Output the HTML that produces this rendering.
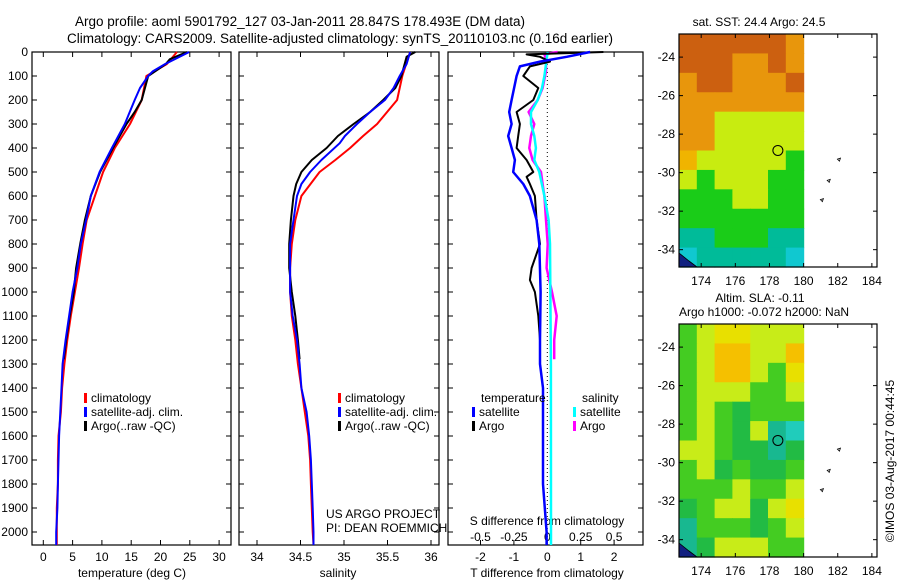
<!DOCTYPE html>
<html><head><meta charset="utf-8">
<style>
html,body{margin:0;padding:0;background:#fff;}
svg text{font-family:"Liberation Sans",sans-serif;fill:#000;}
</style></head>
<body>
<svg id="fig" width="900" height="580" viewBox="0 0 900 580" xmlns="http://www.w3.org/2000/svg">
<text x="300" y="26" font-size="13.5" text-anchor="middle">Argo profile: aoml 5901792_127 03-Jan-2011 28.847S 178.493E (DM data)</text>
<text x="340" y="43" font-size="13.5" text-anchor="middle">Climatology: CARS2009. Satellite-adjusted climatology: synTS_20110103.nc (0.16d earlier)</text>
</svg>
<script>
// ---------- DATA ----------
const tDepthClim = [0,50,100,200,300,400,500,600,700,800,900,1000,1100,1200,1300,1400,1500,1600,1700,1800,1900,2000,2054];
const tClim = [22.8,21.1,17.6,16.8,14.8,12.2,10.2,8.8,7.4,6.7,6.1,5.4,4.7,4.1,3.6,3.2,3.0,2.6,2.5,2.5,2.3,2.3,2.3];
const tDepthSat = [0,50,80,100,150,200,300,400,500,600,700,800,900,1000,1100,1200,1300,1400,1500,1600,1700,1800,1900,2000,2054];
const tSat = [24.9,20.8,18.7,17.9,16.5,15.6,13.9,11.7,9.6,8.1,7.3,6.4,5.8,5.0,4.4,3.8,3.3,3.1,2.9,2.7,2.6,2.5,2.4,2.2,2.2];
const tDepthArgo = [0,30,50,100,200,250,300,400,500,600,700,800,900,1000,1100,1200,1280];
const tArgo = [24.5,21.6,20.9,17.9,16.8,15.6,14.2,11.9,9.7,8.1,7.1,6.3,5.6,5.2,4.5,3.9,3.5];

const sDepthClim = [0,100,200,300,350,400,450,500,600,700,800,900,1000,1100,1200,1300,1400,1500,1600,1700,1800,1900,2000,2054];
const sClim = [35.76,35.67,35.61,35.38,35.22,35.07,34.9,34.72,34.51,34.44,34.40,34.38,34.38,34.40,34.44,34.47,34.51,34.55,34.59,34.61,34.62,34.63,34.64,34.65];
const sDepthSat = [0,50,100,150,200,250,300,350,380,450,500,550,600,700,800,900,1000,1100,1200,1300,1400,1500,1600,1700,1800,1900,2000,2054];
const sSat = [35.76,35.72,35.64,35.57,35.47,35.30,35.15,35.01,34.95,34.74,34.61,34.51,34.46,34.42,34.38,34.38,34.38,34.41,34.46,34.49,34.51,34.57,34.60,34.62,34.63,34.64,34.65,34.65];
const sDepthArgo = [0,20,100,150,200,250,300,350,400,450,500,550,600,700,800,900,1000,1100,1200,1280];
const sArgo = [35.82,35.72,35.66,35.59,35.45,35.30,35.11,34.93,34.80,34.63,34.51,34.45,34.42,34.39,34.37,34.37,34.40,34.44,34.47,34.49];

const dtDepthSat = [0,20,40,60,100,200,250,300,350,400,450,500,550,600,700,800,1000,1200,1300,1400,1800,2000,2054];
const dtSat = [1.28,0.58,-0.22,-0.82,-0.92,-1.07,-1.14,-1.07,-1.17,-1.07,-0.97,-1.02,-0.72,-0.52,-0.32,-0.24,-0.20,-0.22,-0.22,-0.13,-0.13,-0.02,-0.02];
const dtDepthArgo = [0,10,20,40,60,100,150,200,250,300,350,400,450,500,520,550,600,700,800,900,950,1000,1100,1200,1280];
const dtArgo = [1.68,-0.62,-0.22,0.08,-0.52,-0.72,-0.27,-0.42,-0.92,-0.82,-0.87,-0.92,-0.62,-0.42,-0.62,-0.52,-0.37,-0.32,-0.22,-0.47,-0.52,-0.37,-0.27,-0.22,-0.22];
const dsDepthSat = [0,50,100,150,200,250,300,350,400,450,500,600,700,800,1300,2054];
const dsSat = [0.003,-0.01,-0.022,-0.04,-0.072,-0.122,-0.122,-0.097,-0.085,-0.097,-0.06,-0.022,0.01,0.02,0.027,0.028];
const dsDepthArgo = [0,10,30,80,150,200,250,300,350,400,450,500,550,600,700,800,900,1000,1100,1200,1280];
const dsArgo = [0.077,-0.022,-0.01,-0.01,-0.035,-0.072,-0.14,-0.097,-0.122,-0.135,-0.11,-0.047,-0.035,-0.022,-0.01,0.003,-0.005,0.035,0.07,0.052,0.052];

const depthTicks = [0,100,200,300,400,500,600,700,800,900,1000,1100,1200,1300,1400,1500,1600,1700,1800,1900,2000];
const tempTicks = [0,5,10,15,20,25,30];
const salTicks = [34,34.5,35,35.5,36];
const salTickLabels = ["34","34.5","35","35.5","36"];
const dtTicks = [-2,-1,0,1,2];
const dsTicks = [-0.5,-0.25,0,0.25,0.5];
const dsTickLabels = ["-0.5","-0.25","0","0.25","0.5"];
const lonTicks = [174,176,178,180,182,184];
const latTicks = [-24,-26,-28,-30,-32,-34];

const sstGrid = [
 "DDDDDDO",
 "DDDOODO",
 "ODDOOOD",
 "OOOOOOO",
 "OOYYYYY",
 "OOYYYYY",
 "LYYYYYN",
 "YNYYYNN",
 "NNNYYNN",
 "NNNNNNN",
 "TTNNNTT",
 "CTTTTTC"];
const slaGrid = [
 "GYLLYYY",
 "GYOOYYO",
 "GYOOYGL",
 "GYYYGGY",
 "GYGgGGG",
 "GYGgYTC",
 "YYGggTg",
 "GYgGggG",
 "GGGYGGY",
 "gGYYgYL",
 "TGGGgGY",
 "TgYYYGG"];
const argoLon = 178.493, argoLat = -28.847;

// ---------- helpers ----------
const NS = "http://www.w3.org/2000/svg";
const svg = document.getElementById('fig');
function mk(tag, attrs, parent){const e=document.createElementNS(NS,tag);for(const k in attrs)e.setAttribute(k,attrs[k]);(parent||svg).appendChild(e);return e;}
function txt(s,x,y,size,anchor,name,parent){const t=mk('text',{x:x,y:y,'font-size':size,'text-anchor':anchor||'start'},parent);t.textContent=s;


return t;}

const yD = d => 52 + d*0.24;
const P1 = {l:32,r:231}, P2={l:239,r:439}, P3={l:448,r:643};
const xT = v => 43.3 + v*5.86;
const xS = v => 257 + (v-34)*87;
const xDT = v => 547.3 + v*33.4;
const xDS = v => 547.3 + v*133.6;

function panel(p,name){
  const r=mk('rect',{x:p.l,y:52,width:p.r-p.l,height:493,fill:'none',stroke:'#000','stroke-width':1.2});
  
  
  depthTicks.forEach(d=>{
    mk('line',{x1:p.l,x2:p.l+5,y1:yD(d),y2:yD(d),stroke:'#000'});
    mk('line',{x1:p.r-5,x2:p.r,y1:yD(d),y2:yD(d),stroke:'#000'});
  });
}
function xticks(p,ticks,fx,labels,ly,name){
  ticks.forEach((v,i)=>{
    const x=fx(v);
    mk('line',{x1:x,x2:x,y1:545,y2:540,stroke:'#000'});
    mk('line',{x1:x,x2:x,y1:52,y2:57,stroke:'#000'});
    if(labels) txt(labels[i],x,ly,12,'middle',name);
  });
}
function line(depths,vals,fx,color,w,name){
  const pts=depths.map((d,i)=>fx(vals[i]).toFixed(1)+','+yD(d).toFixed(1)).join(' ');
  const e=mk('polyline',{points:pts,fill:'none',stroke:color,'stroke-width':w,'stroke-linejoin':'round'});
  
  
}
function legend(x,y,color,label,name){
  const m=mk('rect',{x:x,y:y-9,width:3,height:10,fill:color});
  
  
  txt(label,x+7,y,12,'start',name);
}

// ---------- panel 1 temperature ----------
panel(P1,'temperature-panel');
depthTicks.forEach(d=>txt(String(d),28,yD(d)+4,12,'end','depth-tick-label'));
xticks(P1,tempTicks,xT,tempTicks.map(String),561,'temperature-tick-label');
txt('temperature (deg C)',132,577,12,'middle','temperature-axis-title');
line(tDepthClim,tClim,xT,'#ff0000',2,'temp-climatology-line');
line(tDepthArgo,tArgo,xT,'#000000',2,'temp-argo-line');
line(tDepthSat,tSat,xT,'#0000ff',2,'temp-satellite-line');
legend(84,402,'#ff0000','climatology','legend-climatology');
legend(84,416,'#0000ff','satellite-adj. clim.','legend-satellite-adj');
legend(84,430,'#000000','Argo(..raw -QC)','legend-argo');

// ---------- panel 2 salinity ----------
panel(P2,'salinity-panel');
xticks(P2,salTicks,xS,salTickLabels,561,'salinity-tick-label');
txt('salinity',338,577,12,'middle','salinity-axis-title');
line(sDepthClim,sClim,xS,'#ff0000',2,'sal-climatology-line');
line(sDepthArgo,sArgo,xS,'#000000',2,'sal-argo-line');
line(sDepthSat,sSat,xS,'#0000ff',2,'sal-satellite-line');
legend(338,402,'#ff0000','climatology','legend2-climatology');
legend(338,416,'#0000ff','satellite-adj. clim.','legend2-satellite-adj');
legend(338,430,'#000000','Argo(..raw -QC)','legend2-argo');
txt('US ARGO PROJECT',326,518,12,'start','credit-project');
txt('PI: DEAN ROEMMICH',326,532,12,'start','credit-pi');

// ---------- panel 3 differences ----------
panel(P3,'difference-panel');
xticks(P3,dtTicks,xDT,dtTicks.map(String),561,'tdiff-tick-label');
dsTicks.forEach((v,i)=>txt(dsTickLabels[i],xDS(v),541,12,'middle','sdiff-tick-label'));
txt('S difference from climatology',547,525,12,'middle','sdiff-axis-title');
txt('T difference from climatology',547,577,12,'middle','tdiff-axis-title');
const zl=mk('line',{x1:xDT(0),x2:xDT(0),y1:52,y2:545,stroke:'#000','stroke-dasharray':'1,3'});


line(dsDepthArgo,dsArgo,xDS,'#ff00ff',2.5,'sdiff-argo-line');
line(dsDepthSat,dsSat,xDS,'#00ffff',2.5,'sdiff-satellite-line');
line(dtDepthArgo,dtArgo,xDT,'#000000',2,'tdiff-argo-line');
line(dtDepthSat,dtSat,xDT,'#0000ff',2.5,'tdiff-satellite-line');
txt('temperature',481,402,12,'start','legend3-temperature-heading');
legend(472,416,'#0000ff','satellite','legend3-t-satellite');
legend(472,430,'#000000','Argo','legend3-t-argo');
txt('salinity',582,402,12,'start','legend3-salinity-heading');
legend(573,416,'#00ffff','satellite','legend3-s-satellite');
legend(573,430,'#ff00ff','Argo','legend3-s-argo');

// ---------- maps ----------
const sstColors={D:'#cc6010',O:'#e8960c',L:'#f0b400',Y:'#c8ec10',N:'#1acc18',T:'#00bb99',C:'#10c8d0'};
const slaColors={G:'#44cc22',g:'#22bb44',Y:'#c8ec18',L:'#e8e000',O:'#f5c000',T:'#18b890',C:'#20ccbb'};
const lon0=172.7, lon1=184.3, latTop=-22.8, latBot=-34.9, mapL=679, mapR=877;
const xLon = lon => mapL + (lon-lon0)*(mapR-mapL)/(lon1-lon0);
function map(top,grid,colors,name){
  const bot=top+233;
  const yLat = lat => top + (latTop-lat)*(bot-top)/(latTop-latBot);
  const g=mk('g',{});
  
  
  const nr=grid.length, nc=grid[0].length;
  const cw=(xLon(180)-mapL)/nc, rh=(bot-top)/nr;
  grid.forEach((row,r)=>{for(let c=0;c<nc;c++){
    mk('rect',{x:(mapL+c*cw).toFixed(2),y:(top+r*rh).toFixed(2),width:(cw+0.6).toFixed(2),height:(rh+0.6).toFixed(2),fill:colors[row[c]]},g);
  }});
  mk('path',{d:`M${mapL} ${bot-14} L${mapL+10} ${bot-6} L${mapL+18} ${bot} L${mapL} ${bot} Z`,fill:'#102080',stroke:'#000','stroke-width':0.8},g);
  [[182.1,-29.3],[181.5,-30.4],[181.1,-31.4]].forEach(p=>mk('path',{d:`M${xLon(p[0])-2} ${yLat(p[1])} l3 -1 l-1 3 z`,fill:'none',stroke:'#000','stroke-width':0.8},g));
  const fr=mk('rect',{x:mapL,y:top,width:mapR-mapL,height:bot-top,fill:'none',stroke:'#000','stroke-width':1.2});
  
  
  lonTicks.forEach(v=>{const x=xLon(v);
    mk('line',{x1:x,x2:x,y1:bot,y2:bot-4,stroke:'#000'});mk('line',{x1:x,x2:x,y1:top,y2:top+4,stroke:'#000'});
    txt(String(v),x,bot+18,12,'middle',name+'-lon-label');});
  latTicks.forEach(v=>{const y=yLat(v);
    mk('line',{x1:mapL,x2:mapL+4,y1:y,y2:y,stroke:'#000'});mk('line',{x1:mapR-4,x2:mapR,y1:y,y2:y,stroke:'#000'});
    txt(String(v),mapL-4,y+4,12,'end',name+'-lat-label');});
  const c=mk('circle',{cx:xLon(argoLon),cy:yLat(argoLat),r:5,fill:'none',stroke:'#000','stroke-width':1});
  
  
}
map(34,sstGrid,sstColors,'sst-map');
map(324,slaGrid,slaColors,'sla-map');
txt('sat. SST: 24.4  Argo: 24.5',759,26,12,'middle','sst-map-title');
txt('Altim. SLA: -0.11',760,302,12,'middle','sla-map-title-line1');
txt('Argo h1000: -0.072 h2000: NaN',764,316,12,'middle','sla-map-title-line2');
const ct=txt('©IMOS 03-Aug-2017 00:44:45',0,0,12,'middle','imos-credit');
ct.setAttribute('transform','translate(894,461) rotate(-90)');
</script>
</body></html>
